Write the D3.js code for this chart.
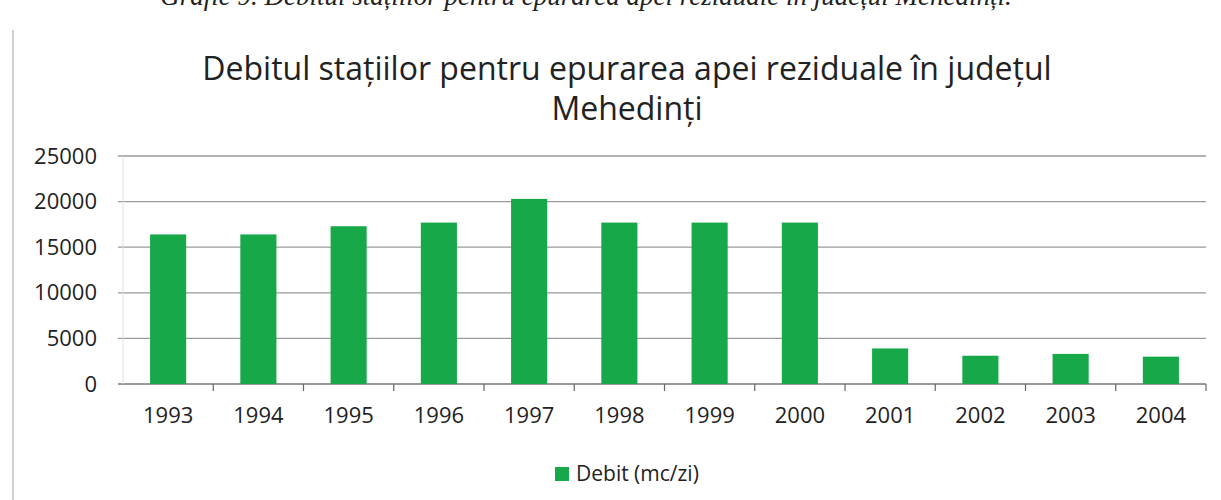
<!DOCTYPE html>
<html>
<head>
<meta charset="utf-8">
<script src="https://cdn.jsdelivr.net/npm/d3@7"></script>
<style>
  body { margin: 0; background: #fff; }
  svg { display: block; }
</style>
</head>
<body>
<svg id="chart" width="1221" height="500"></svg>
<script>
// data
const years = ["1993", "1994", "1995", "1996", "1997", "1998", "1999", "2000", "2001", "2002", "2003", "2004"];
const debit = [16400, 16400, 17300, 17700, 20300, 17700, 17700, 17700, 3900, 3100, 3300, 3000];
const yTicks = [0, 5000, 10000, 15000, 20000, 25000];
const caption = "Grafic 9. Debitul stațiilor pentru epurarea apei reziduale în județul Mehedinți.";
const titleLines = ["Debitul stațiilor pentru epurarea apei reziduale în județul", "Mehedinți"];
const seriesName = "Debit (mc/zi)";

const svg = d3.select("#chart");
const barColor = "#17a84a";
const font = "'Open Sans', sans-serif";

// caption from the page above the chart, cut off at the top
svg.append("text")
    .attr("x", 586)
    .attr("y", 5)
    .attr("text-anchor", "middle")
    .attr("font-family", "'Liberation Serif', serif")
    .attr("font-style", "italic")
    .attr("font-size", 27)
    .attr("fill", "#222")
    .text(caption);

// left frame line of the chart
svg.append("line")
    .attr("x1", 13).attr("x2", 13)
    .attr("y1", 30).attr("y2", 500)
    .attr("stroke", "#d0d0d0")
    .attr("stroke-width", 2);

// title
svg.append("text")
    .attr("text-anchor", "middle")
    .attr("font-family", font)
    .attr("font-size", 32)
    .attr("fill", "#222")
    .selectAll("tspan")
    .data(titleLines)
    .join("tspan")
    .attr("x", 627)
    .attr("y", (d, i) => 80 + i * 40)
    .text(d => d);

const margin = { left: 123, right: 1206, top: 156, bottom: 384 };

const x = d3.scaleBand()
    .domain(years)
    .range([margin.left, margin.right])
    .paddingInner(0.6)
    .paddingOuter(0.3);

const xTicks = d3.scaleBand()
    .domain(years)
    .range([margin.left, margin.right]);

const y = d3.scaleLinear()
    .domain([0, 25000])
    .range([margin.bottom, margin.top]);

// gridlines
svg.append("g")
    .selectAll("line")
    .data(yTicks)
    .join("line")
    .attr("x1", margin.left - 5)
    .attr("x2", margin.right)
    .attr("y1", d => y(d))
    .attr("y2", d => y(d))
    .attr("stroke", d => d === 0 ? "#777" : "#9a9a9a")
    .attr("stroke-width", 1.3);

// vertical axis line
svg.append("line")
    .attr("x1", margin.left).attr("x2", margin.left)
    .attr("y1", margin.top).attr("y2", margin.bottom)
    .attr("stroke", "#e0e0e0");

// y labels
const yAxis = svg.append("g")
    .attr("transform", `translate(${margin.left - 26},0)`)
    .call(d3.axisLeft(y).tickValues(yTicks).tickFormat(d3.format("d")).tickSize(0).tickPadding(0));
yAxis.select(".domain").remove();
yAxis.selectAll("text")
    .attr("font-family", font)
    .attr("font-size", 22)
    .attr("fill", "#222");

// x axis with tick marks between categories
const xAxis = svg.append("g")
    .attr("transform", `translate(0,${margin.bottom})`)
    .call(d3.axisBottom(x).tickSize(0).tickPadding(23));
xAxis.select(".domain").remove();
xAxis.selectAll("text")
    .attr("font-family", font)
    .attr("font-size", 22)
    .attr("fill", "#222");

svg.append("g")
    .selectAll("line")
    .data(years.slice(1).concat(["end"]))
    .join("line")
    .attr("x1", d => d === "end" ? margin.right : xTicks(d))
    .attr("x2", d => d === "end" ? margin.right : xTicks(d))
    .attr("y1", margin.bottom)
    .attr("y2", margin.bottom + 7)
    .attr("stroke", "#666")
    .attr("stroke-width", 1.2);

// bars
svg.append("g")
    .selectAll("rect")
    .data(debit)
    .join("rect")
    .attr("x", (d, i) => x(years[i]))
    .attr("y", d => y(d))
    .attr("width", x.bandwidth())
    .attr("height", d => y(0) - y(d))
    .attr("fill", barColor);

// legend
const legend = svg.append("g").attr("transform", "translate(555,474)");
legend.append("rect")
    .attr("x", 0).attr("y", -7)
    .attr("width", 14).attr("height", 14)
    .attr("fill", barColor);
legend.append("text")
    .attr("x", 21)
    .attr("y", 0)
    .attr("dy", "0.35em")
    .attr("font-family", font)
    .attr("font-size", 21)
    .attr("fill", "#222")
    .text(seriesName);
</script>
</body>
</html>
